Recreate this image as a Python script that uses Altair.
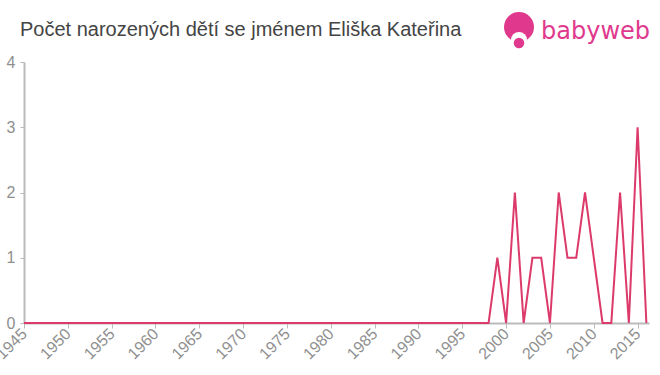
import altair as alt
import pandas as pd

years = list(range(1945, 2017))
late_values = {
    1998: 0, 1999: 1, 2000: 0, 2001: 2, 2002: 0, 2003: 1, 2004: 1, 2005: 0,
    2006: 2, 2007: 1, 2008: 1, 2009: 2, 2010: 1, 2011: 0, 2012: 0, 2013: 2,
    2014: 0, 2015: 3, 2016: 0,
}
counts = [late_values.get(y, 0) for y in years]

title_text = "Počet narozených dětí se jménem Eliška Kateřina"
logo_text = "babyweb"
tick_years = list(range(1945, 2016, 5))

df = pd.DataFrame({"rok": years, "pocet": counts})

FONT = "Liberation Sans"
PINK = "#dc3a6b"
LOGO = "#e0388c"

line = alt.Chart(df).mark_line(color=PINK, strokeWidth=2, clip=False).encode(
    x=alt.X(
        "rok:Q",
        scale=alt.Scale(domain=[1945, 2016.3], nice=False, zero=False),
        axis=alt.Axis(
            values=tick_years,
            format="d",
            labelAngle=-45,
            labelAlign="right",
            labelBaseline="middle",
            labelFontSize=16,
            labelColor="#8f8f8f",
            labelFont=FONT,
            tickColor="#bbbbbb",
            tickSize=5,
            domainColor="#bbbbbb",
            domainWidth=2,
            grid=False,
            title=None,
            labelPadding=3,
            labelOverlap=False,
            labelFlush=False,
            labelBound=False,
        ),
    ),
    y=alt.Y(
        "pocet:Q",
        scale=alt.Scale(domain=[0, 4], nice=False),
        axis=alt.Axis(
            values=[0, 1, 2, 3, 4],
            labelFontSize=16,
            labelColor="#8f8f8f",
            labelFont=FONT,
            tickColor="#bbbbbb",
            tickSize=4,
            domainColor="#bbbbbb",
            domainWidth=2,
            grid=False,
            title=None,
            labelPadding=5,
        ),
    ),
)

title = alt.Chart(pd.DataFrame({"t": [title_text]})).mark_text(
    align="left", baseline="middle", fontSize=20, font=FONT, color="#444444"
).encode(text="t:N", x=alt.value(-4), y=alt.value(-32))

logo_df = pd.DataFrame({"t": [logo_text]})
logo_head = alt.Chart(logo_df).mark_point(
    shape="circle", filled=True, color=LOGO, opacity=1, size=900, strokeWidth=0
).encode(x=alt.value(495), y=alt.value(-35))
logo_face = alt.Chart(logo_df).mark_point(
    shape="circle", filled=True, color="white", opacity=1, size=260, strokeWidth=0
).encode(x=alt.value(495), y=alt.value(-22))
logo_body = alt.Chart(logo_df).mark_point(
    shape="circle", filled=True, color=LOGO, opacity=1, size=110, strokeWidth=0
).encode(x=alt.value(495), y=alt.value(-19))
logo_word = alt.Chart(logo_df).mark_text(
    align="left", baseline="alphabetic", fontSize=24, font="DejaVu Sans", color=LOGO
).encode(text="t:N", x=alt.value(517), y=alt.value(-23))

chart = alt.layer(line, title, logo_head, logo_face, logo_body, logo_word).properties(
    width=625,
    height=261,
    padding={"left": 24, "top": 62, "right": 11, "bottom": 52},
    autosize=alt.AutoSizeParams(type="none"),
).configure_view(stroke=None)

chart.save("out.html", embed_options={"renderer": "svg", "actions": False})
